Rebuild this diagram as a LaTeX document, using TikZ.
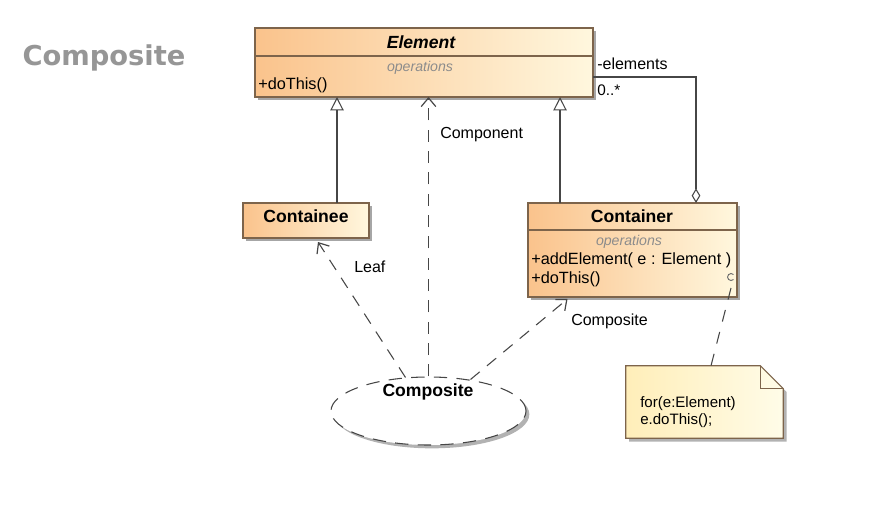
\documentclass[tikz,border=0pt]{standalone}
\usepackage{fontspec}
\setmainfont{Liberation Sans}
\newfontfamily\titlefont{DejaVu Sans}
\usetikzlibrary{arrows.meta,shapes.geometric,shadows,calc}
\definecolor{boxL}{RGB}{250,195,140}
\definecolor{boxR}{RGB}{255,247,222}
\definecolor{noteL}{RGB}{255,238,185}
\definecolor{noteR}{RGB}{255,252,232}
\definecolor{edge}{RGB}{125,100,75}
\definecolor{lineC}{RGB}{70,70,70}
\definecolor{opC}{RGB}{140,140,140}
\definecolor{titleC}{RGB}{150,150,150}
\tikzset{
  umlbox/.style={rectangle, draw=edge, line width=0.8pt, left color=boxL, right color=boxR,
    inner sep=0pt, outer sep=0pt,
    drop shadow={shadow xshift=2.6pt, shadow yshift=-2.6pt, fill=black, opacity=0.35}},
  bold/.style={font=\fontsize{13.2}{15}\selectfont\bfseries, inner sep=0pt},
  boldit/.style={font=\fontsize{13.2}{15}\selectfont\bfseries\itshape, inner sep=0pt},
  oplab/.style={font=\fontsize{10.6}{12}\selectfont\itshape, text=opC, inner sep=0pt},
  member/.style={font=\fontsize{12.2}{14}\selectfont, anchor=west, inner sep=0pt},
  lab/.style={font=\fontsize{12}{14}\selectfont, anchor=west, inner sep=0pt},
  notetxt/.style={font=\fontsize{11.3}{13}\selectfont, anchor=west, inner sep=0pt},
  gen/.style={draw=lineC, line width=0.8pt, -{Triangle[open, length=10pt, width=10pt]}},
  agg/.style={draw=lineC, line width=0.8pt, -{Diamond[open, length=11pt, width=6.5pt]}},
  dep/.style={draw=lineC, line width=0.8pt, dash pattern=on 9pt off 7pt,
    -{Straight Barb[length=6.5pt, width=11pt, line width=0.9pt]}},
  notelink/.style={draw=lineC, line width=0.8pt, dash pattern=on 9pt off 8pt},
}
\begin{document}
\begin{tikzpicture}[x=0.75pt, y=-0.75pt]
\useasboundingbox[fill=white] (0,0) rectangle (895,524);

% title
\node[font=\titlefont\fontsize{20.5}{24}\selectfont\bfseries, text=titleC] (title) at (104,58) {Composite};

% Element
\node[umlbox, minimum width=253.5pt, minimum height=51.75pt] (element) at (424,62.5) {};
\draw[edge, line width=0.8pt] (element.west |- 0,56) -- (element.east |- 0,56);
\node[boldit] (elname) at (421,42) {Element};
\node[oplab] (elops) at (420,68) {operations};
\node[member] (eldo) at (258,85) {+doThis()};

% Containee
\node[umlbox, minimum width=94.5pt, minimum height=26.25pt] (containee) at (306,220.5) {};
\node[bold] (cename) at (306,216) {Containee};

% Container
\node[umlbox, minimum width=156.75pt, minimum height=70.5pt] (container) at (632.5,250) {};
\draw[edge, line width=0.8pt] (container.west |- 0,230) -- (container.east |- 0,230);
\node[bold] (coname) at (632,216) {Container};
\node[oplab] (coops) at (629,242) {operations};
\node[member] (coadd) at (531,260) {+addElement( e : Element )};
\node[member] (codo) at (531,279) {+doThis()};

% generalizations
\draw[gen] ($(containee.north)+(31,0)$) coordinate (g1) -- (g1 |- element.south);
\draw[gen] ($(container.north)+(-72.5,0)$) coordinate (g2) -- (g2 |- element.south);

% aggregation
\coordinate (aggs) at ($(element.east)+(0,14.5)$);
\draw[agg] (aggs) -| ($(container.north)+(63.5,0)$);
\node[lab] (aggname) at (597,64) {-elements};
\node[lab, font=\fontsize{11.5}{13}\selectfont] (aggmult) at (597,90) {0..*};

% collaboration ellipse
\node[ellipse, draw=lineC, line width=0.8pt, fill=white, dash pattern=on 10pt off 7pt,
  minimum width=146.25pt, minimum height=51pt, inner sep=0pt,
  drop shadow={shadow xshift=2.5pt, shadow yshift=-2.5pt, fill=black, opacity=0.3}] (comp) at (428.5,411) {};
\node[bold] (compname) at (428,392) {Composite};

% dependencies
\draw[dep] ($(comp.north)+(-23,1)$) -- ($(containee.south)+(12,4)$);
\draw[dep] (comp.north) -- (comp.north |- element.south);
\draw[dep] ($(comp.north)+(42,3)$) -- ($(container.south)+(-65,2)$);
\node[lab] (leaf) at (354,267) {Leaf};
\node[lab] (component) at (440,135) {Component};
\node[lab] (composite) at (571,321) {Composite};

% note
\node[minimum width=117.75pt, minimum height=54pt, inner sep=0pt] (note) at (704.5,402) {};
\path[left color=noteL, right color=noteR,
  drop shadow={shadow xshift=2.6pt, shadow yshift=-2.6pt, fill=black, opacity=0.3}]
  (note.north west) -- ($(note.north east)+(-23,0)$) -- ($(note.north east)+(0,23)$)
  -- (note.south east) -- (note.south west) -- cycle;
\draw[edge, line width=0.8pt, line join=miter]
  (note.north west) -- ($(note.north east)+(-23,0)$) -- ($(note.north east)+(0,23)$)
  -- (note.south east) -- (note.south west) -- cycle;
\draw[edge, line width=0.8pt] ($(note.north east)+(-23,0)$) |- ($(note.north east)+(0,23)$);
\node[notetxt] (n1) at (640,404) {for(e:Element)};
\node[notetxt] (n2) at (640,421) {e.doThis();};

% note link
\coordinate (anch) at (731,282);
\draw[lineC!80, line width=0.7pt] ($(anch)+(2.5,-2.5)$) arc (45:315:3.5);
\draw[notelink] ($(anch)+(0,6)$) -- ($(note.north)+(6.5,0)$);
\end{tikzpicture}
\end{document}
